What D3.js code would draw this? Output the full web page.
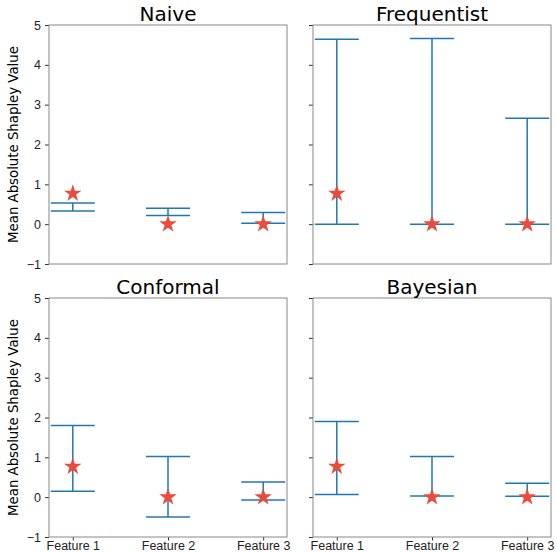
<!DOCTYPE html>
<html>
<head>
<meta charset="utf-8">
<script src="https://cdn.jsdelivr.net/npm/d3@7"></script>
<style>
  body { margin: 0; background: #fff; }
  svg { font-family: "DejaVu Sans", sans-serif; }
  .tick text { fill: #222; }
</style>
</head>
<body>
<div id="chart"></div>
<script>
var features = ['Feature 1', 'Feature 2', 'Feature 3'];
var methods = ['Naive', 'Frequentist', 'Conformal', 'Bayesian'];
var yTicks = [-1, 0, 1, 2, 3, 4, 5];

// point estimate (stars) per method
var naiveStar = [0.77, 0.0, 0.0];
var freqStar = [0.77, 0.0, 0.0];
var confStar = [0.77, 0.0, 0.0];
var bayesStar = [0.77, 0.0, 0.0];

// interval bounds per method
var naiveLow = [0.33, 0.22, 0.02];
var naiveHigh = [0.53, 0.40, 0.29];
var freqLow = [0.0, 0.0, 0.0];
var freqHigh = [4.64, 4.66, 2.66];
var confLow = [0.15, -0.50, -0.07];
var confHigh = [1.80, 1.02, 0.38];
var bayesLow = [0.07, 0.03, 0.02];
var bayesHigh = [1.90, 1.02, 0.35];

var stars = [naiveStar, freqStar, confStar, bayesStar];
var lows = [naiveLow, freqLow, confLow, bayesLow];
var highs = [naiveHigh, freqHigh, confHigh, bayesHigh];

var W = 557, H = 552;
var pw = 238, ph = 239;
var lefts = [49, 313];
var tops = [25, 298];

var svg = d3.select('#chart').append('svg')
  .attr('width', W)
  .attr('height', H);

var x = d3.scaleLinear().domain([-0.25, 2.25]).range([0, pw]);
var y = d3.scaleLinear().domain([-1, 5]).range([ph, 0]);
var star = d3.symbol().type(d3.symbolStar).size(95);

for (var m = 0; m < 4; m++) {
  var col = m % 2, row = Math.floor(m / 2);
  var g = svg.append('g')
    .attr('transform', 'translate(' + lefts[col] + ',' + tops[row] + ')');

  var rows = features.map(function(f, i) {
    return {i: i, s: stars[m][i], lo: lows[m][i], hi: highs[m][i]};
  });

  // y axis
  var ya = d3.axisLeft(y).tickValues(yTicks).tickSize(4).tickPadding(4)
    .tickFormat(col == 0 ? function(d) { return d < 0 ? '\u2212' + Math.abs(d) : d; } : '');
  var yg = g.append('g').call(ya);
  yg.selectAll('text').style('font-size', '12.5px');
  yg.select('.domain').remove();
  yg.selectAll('line').attr('stroke', '#333');

  // x axis
  if (row == 1) {
    var xa = d3.axisBottom(x).tickValues([0, 1, 2]).tickSize(3.5).tickPadding(1)
      .tickFormat(function(d) { return features[d]; });
    var xg = g.append('g').attr('transform', 'translate(0,' + ph + ')').call(xa);
    xg.selectAll('text').style('font-size', '12.5px');
    xg.select('.domain').remove();
    xg.selectAll('line').attr('stroke', '#333');
  }

  // frame
  g.append('rect')
    .attr('width', pw).attr('height', ph)
    .attr('fill', 'none').attr('stroke', '#888').attr('stroke-width', 1);

  var cap = 22;
  var eb = g.selectAll('g.eb').data(rows).enter().append('g').attr('class', 'eb');
  eb.append('line')
    .attr('x1', function(d) { return x(d.i); }).attr('x2', function(d) { return x(d.i); })
    .attr('y1', function(d) { return y(d.lo); }).attr('y2', function(d) { return y(d.hi); });
  eb.append('line')
    .attr('x1', function(d) { return x(d.i) - cap; }).attr('x2', function(d) { return x(d.i) + cap; })
    .attr('y1', function(d) { return y(d.lo); }).attr('y2', function(d) { return y(d.lo); });
  eb.append('line')
    .attr('x1', function(d) { return x(d.i) - cap; }).attr('x2', function(d) { return x(d.i) + cap; })
    .attr('y1', function(d) { return y(d.hi); }).attr('y2', function(d) { return y(d.hi); });
  eb.selectAll('line').attr('stroke', '#1f77b4').attr('stroke-width', 1.5);

  g.selectAll('path.star').data(rows).enter().append('path')
    .attr('class', 'star')
    .attr('d', star)
    .attr('transform', function(d) { return 'translate(' + x(d.i) + ',' + y(d.s) + ')'; })
    .attr('fill', '#e74c3c');

  g.append('text')
    .attr('x', pw / 2).attr('y', -4)
    .attr('text-anchor', 'middle')
    .style('font-size', '20px')
    .text(methods[m]);

  if (col == 0) {
    g.append('text')
      .attr('transform', 'translate(-31,' + (ph / 2) + ') rotate(-90)')
      .attr('text-anchor', 'middle')
      .style('font-size', '13.3px')
      .text('Mean Absolute Shapley Value');
  }
}
</script>
</body>
</html>
